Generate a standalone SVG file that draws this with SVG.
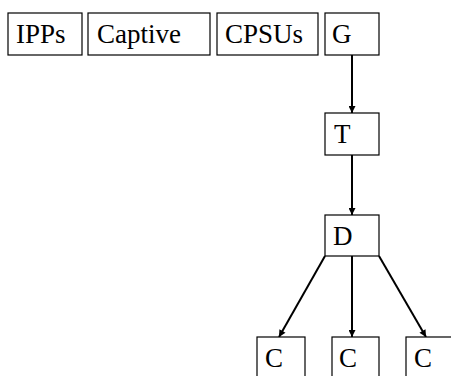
<svg xmlns="http://www.w3.org/2000/svg" width="451" height="376" viewBox="0 0 451 376">
  <style>
    .box { fill: #fff; stroke: #000; stroke-width: 1.2; }
    .lbl { font-family: "Liberation Serif", "DejaVu Serif", "Times New Roman", Times, serif; font-size: 27px; fill: #000; }
    .edge { stroke: #000; stroke-width: 2; fill: none; marker-end: url(#arrow); }
  </style>
  <defs>
    <marker id="arrow" viewBox="0 0 10 10" refX="10" refY="5" markerWidth="4" markerHeight="3.5" orient="auto" markerUnits="strokeWidth">
      <path d="M0,0 L10,5 L0,10 z" fill="#000"/>
    </marker>
  </defs>
  <rect width="451" height="376" fill="#fff"/>
  <g id="connectors">
    <line class="edge" x1="352" y1="55" x2="352" y2="113"/>
    <line class="edge" x1="352" y1="155" x2="352" y2="215"/>
    <line class="edge" x1="325" y1="256" x2="279" y2="337"/>
    <line class="edge" x1="352" y1="256" x2="352" y2="337"/>
    <line class="edge" x1="379" y1="256" x2="426" y2="337"/>
  </g>
  <g id="ipps">
    <rect class="box" x="8" y="13" width="74" height="42"/>
    <text class="lbl" x="16" y="43">IPPs</text>
  </g>
  <g id="captive">
    <rect class="box" x="88" y="13" width="122" height="42"/>
    <text class="lbl" x="97" y="43">Captive</text>
  </g>
  <g id="cpsus">
    <rect class="box" x="217" y="13" width="101" height="42"/>
    <text class="lbl" x="225" y="43">CPSUs</text>
  </g>
  <g id="g">
    <rect class="box" x="325" y="13" width="54" height="42"/>
    <text class="lbl" x="332" y="43">G</text>
  </g>
  <g id="t">
    <rect class="box" x="325" y="113" width="54" height="42"/>
    <text class="lbl" x="334" y="143">T</text>
  </g>
  <g id="d">
    <rect class="box" x="325" y="215" width="54" height="41"/>
    <text class="lbl" x="333" y="245">D</text>
  </g>
  <g id="c1">
    <rect class="box" x="257" y="337" width="48" height="45"/>
    <text class="lbl" x="265" y="367">C</text>
  </g>
  <g id="c2">
    <rect class="box" x="332" y="337" width="47" height="45"/>
    <text class="lbl" x="339" y="367">C</text>
  </g>
  <g id="c3">
    <rect class="box" x="406" y="337" width="50" height="45"/>
    <text class="lbl" x="414" y="367">C</text>
  </g>
</svg>
